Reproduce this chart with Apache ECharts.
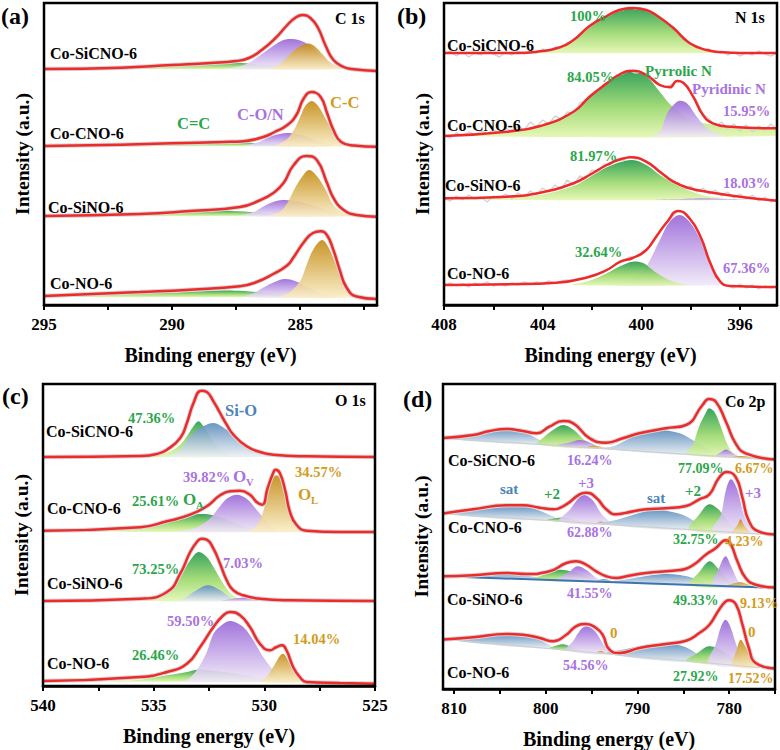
<!DOCTYPE html>
<html><head><meta charset="utf-8">
<script src="https://cdn.jsdelivr.net/npm/echarts@6/dist/echarts.min.js"></script>
<style>html,body{margin:0;padding:0;background:#fff}#c{width:780px;height:750px}</style>
</head><body><div id="c"></div>
<script>
// ---------- axis ticks ----------
const ticksA = [282.5,285,287.5,290,292.5,295], labelsA = [285,290,295];
const ticksB = [396,398,400,402,404,406,408], labelsB = [396,400,404,408];
const ticksC = [525,527.5,530,532.5,535,537.5,540], labelsC = [525,530,535,540];
const ticksD = [775,780,785,790,795,800,805,810], labelsD = [780,790,800,810];
const samples = ['Co-SiCNO-6','Co-CNO-6','Co-SiNO-6','Co-NO-6'];
// vertical offsets of stacked spectra (a.u.)
const offsetsA = [236,159,89,8];
const offsetsB = [252,169,105,20];
const offsetsC = [229,154,85,4];
const offsetsD = [229,154,101,20];

// ---------- (a) C 1s : [binding energy, intensity] ----------
const a1Env = [[295,0],[292,1.3],[290,4],[288.5,6],[287.5,8],[287,11],[286.5,19],[286,30],[285.5,44],[285.2,51],[284.9,54],[284.6,51],[284.3,41],[284,23],[283.7,9],[283.3,2],[283,0],[282,-2]];
const a1Green = [[295,0],[293,1],[291,3],[289.5,5.5],[288.3,7],[287.5,6.5],[286.5,4],[285.5,1.5],[284.5,0]];
const a1Purple = [[288,0],[287.5,2],[287,6],[286.5,15],[286,24],[285.7,28.5],[285.4,30],[285,28.5],[284.6,23],[284.2,14],[283.8,6],[283.4,1.5],[283,0]];
const a1Gold = [[286.2,0],[285.9,3],[285.6,9],[285.35,16],[285.1,21],[284.85,24.5],[284.65,25.5],[284.4,22],[284.1,14],[283.8,6],[283.5,2],[283.1,0]];

const a2Env = [[295,0],[292,1.3],[290,2.7],[288,4],[287.3,4.5],[286.5,8.5],[286,14],[285.5,21],[285.15,31],[284.85,48],[284.55,54],[284.2,49],[283.95,33],[283.7,16],[283.4,4],[282.9,0.5],[282,-0.7]];
const a2Green = [[295,0],[292,1.2],[290,2.5],[288.5,3.5],[287.5,3.5],[286.5,2.5],[285.5,1],[284.5,0]];
const a2Purple = [[287.2,0],[286.6,4],[286.2,9],[285.8,12],[285.45,13],[285,11.5],[284.6,8],[284.2,4],[283.8,1.5],[283.4,0]];
const a2Gold = [[285.9,0],[285.5,7],[285.2,18],[285,29],[284.8,40],[284.55,45],[284.3,40],[284,27],[283.7,14],[283.4,5],[283,1],[282.7,0]];

const a3Env = [[295,0],[291.25,2],[289.3,5],[287.35,9],[286.55,16],[286.05,23],[285.65,33],[285.25,51],[284.75,60],[284.35,56],[283.95,33],[283.7,18],[283.3,6],[282.8,1],[282,-0.7]];
const a3Green = [[295,0],[293,0.5],[291.5,1.5],[290,3.5],[289,5],[288.2,5.3],[287.2,4.5],[286.3,2.5],[285.5,1],[284.8,0]];
const a3Purple = [[287.3,0],[286.8,4],[286.4,10],[286,14.5],[285.7,16],[285.3,15.5],[284.8,13],[284.3,9],[283.8,5],[283.3,2],[282.8,0]];
const a3Gold = [[286.2,0],[285.8,4],[285.5,13],[285.2,28],[284.9,40],[284.65,46],[284.35,40],[284,26],[283.7,11],[283.3,3],[282.9,0]];

const a4Env = [[295,1],[291.25,5],[289.3,7.3],[287.35,10.7],[286.7,15],[286.05,23],[285.5,31.7],[285.25,40],[284.85,55],[284.5,64],[284.2,65.7],[283.95,61.7],[283.7,46.7],[283.45,26.7],[283.2,10],[282.8,0.5],[282,-2]];
const a4Green = [[295,0],[294.5,0.5],[293,1.5],[291,3.5],[289.5,5],[288,6.5],[287.2,6],[286.5,4.5],[285.5,2],[284.5,0]];
const a4Purple = [[287.2,0],[286.8,4],[286.4,10],[286,15],[285.6,18],[285.2,16],[284.8,11],[284.4,6],[284,2.5],[283.6,0]];
const a4Gold = [[285.8,0],[285.4,5],[285,16],[284.75,32],[284.5,47],[284.15,57],[283.9,50],[283.6,32],[283.35,17],[283,5],[282.7,0]];

// ---------- (b) N 1s ----------
const b1Env = [[408,0],[405,0],[404.1,1.7],[403.4,5],[402.75,13],[402.1,27],[401.4,37],[400.9,43],[400.35,45],[399.8,43],[399.4,38],[398.7,25],[398.05,10],[397.35,3],[396.7,0.7],[396,0],[394.5,0]];
const b1Green = [[405.5,0],[404.1,1.7],[403.4,5],[402.75,13],[402.1,27],[401.4,37],[400.9,43],[400.35,45],[399.8,43],[399.4,38],[398.7,25],[398.05,10],[397.35,3],[396.7,0.7],[395.8,0]];
const b1Raw = [[408,-1],[407.75,2],[407.5,-3],[407.25,1],[407,-4],[406.75,0],[406.5,-2],[406.25,3],[406,-1],[405.75,-4],[405.5,1],[405.25,-2],[405,2],[404.75,-1],[404.5,3],[404.25,0],[404,4],[403.75,2],[403.5,6],[403.25,5],[403,10],[402.75,12],[402.5,18],[402.25,23],[402,28],[401.75,32],[401.5,36],[401.25,38],[401,42],[400.75,43],[400.5,46],[400.25,44],[400,45],[399.75,42],[399.5,40],[399.25,35],[399,31],[398.75,27],[398.5,20],[398.25,15],[398,9],[397.75,7],[397.5,3],[397.25,4],[397,0],[396.75,2],[396.5,-2],[396.25,1],[396,-3],[395.75,0],[395.5,-2],[395.25,2],[395,-1],[394.75,-3],[394.5,0]];

const b2Env = [[408,0],[405.45,4.3],[404.1,10],[402.75,24.3],[402.1,39.3],[401.4,52.7],[400.85,62],[400.35,65.3],[399.8,61],[399.25,51],[398.85,48.7],[398.55,55],[398.3,53.3],[397.9,39.3],[397.5,21],[397.1,12.7],[396.4,9.3],[394.5,7.7]];
const b2Green = [[408,0],[405.45,4],[404.1,9.5],[402.75,23.5],[402.1,38.5],[401.4,52],[400.85,61],[400.35,64.5],[399.8,60],[399.25,44],[398.85,32],[398.45,24],[398.05,17],[397.5,13],[396.8,10.5],[395.5,8.5],[394.5,7.7],[394.5,0]];
const b2Purple = [[399.6,0],[399.25,4.3],[398.95,22.7],[398.7,31],[398.45,35.3],[398.15,32.7],[397.75,19.3],[397.35,7.7],[396.95,2.7],[396.6,0]];
const b2Raw = [[408,1],[407.75,-2],[407.5,3],[407.25,0],[407,4],[406.75,1],[406.5,5],[406.25,2],[406,6],[405.75,3],[405.5,8],[405.25,4],[405,10],[404.75,6],[404.5,14],[404.25,9],[404,16],[403.75,12],[403.5,20],[403.25,17],[403,24],[402.75,22],[402.5,33],[402.25,35],[402,42],[401.75,46],[401.5,52],[401.25,55],[401,61],[400.75,62],[400.5,66],[400.25,63],[400,64],[399.75,60],[399.5,57],[399.25,50],[399,49],[398.75,52],[398.5,56],[398.25,52],[398,44],[397.75,35],[397.5,22],[397.25,17],[397,10],[396.75,14],[396.5,7],[396.25,12],[396,5],[395.75,11],[395.5,4],[395.25,10],[395,6],[394.75,12],[394.5,7]];

const b3Env = [[408,1.7],[405.45,3.3],[404.1,7.3],[402.75,16.7],[402.1,25],[401.4,35],[400.85,40.7],[400.4,42.7],[399.8,38.3],[399.25,28.3],[398.7,18.3],[398.05,11.7],[397.35,8.3],[396,3.3],[394.5,-0.7]];
const b3Green = [[408,0.5],[405.5,2.5],[404.1,5],[402.75,14],[402.1,22.7],[401.4,32.7],[400.4,40],[399.8,35],[399.25,25],[398.7,16.7],[398.05,9.3],[397.35,4],[396.7,1.7],[396,0]];
const b3Purple = [[399.4,0],[398.7,0.7],[397.9,1.3],[397.1,1.3],[396.3,0.7],[395.6,0]];
const b3Raw = [[408,2],[407.75,-1],[407.5,4],[407.25,0],[407,5],[406.75,1],[406.5,3],[406.25,-2],[406,4],[405.75,2],[405.5,6],[405.25,1],[405,7],[404.75,3],[404.5,9],[404.25,5],[404,12],[403.75,8],[403.5,15],[403.25,11],[403,20],[402.75,15],[402.5,24],[402.25,21],[402,30],[401.75,28],[401.5,36],[401.25,35],[401,41],[400.75,39],[400.5,44],[400.25,41],[400,42],[399.75,36],[399.5,33],[399.25,27],[399,24],[398.75,17],[398.5,17],[398.25,11],[398,14],[397.75,8],[397.5,12],[397.25,6],[397,10],[396.75,4],[396.5,8],[396.25,2],[396,6],[395.75,1],[395.5,5],[395.25,-1],[395,3],[394.75,-2],[394.5,1]];

const b4Env = [[408,0],[405.45,0.7],[403.45,2.3],[402.1,8.3],[401.4,15],[400.85,23.3],[400.35,27],[399.8,35],[399.4,48.3],[398.95,63.3],[398.5,74],[398.05,66.7],[397.6,48.3],[397.2,21.7],[396.8,3.3],[396.4,-1],[394.5,-2]];
const b4Purple = [[401.4,0],[400.6,4],[400.05,10],[399.65,25],[399.25,45],[398.85,63.3],[398.45,70],[398.05,63.3],[397.6,45],[397.2,20],[396.8,3.3],[396.4,0]];
const b4Green = [[402.8,0],[402.1,4.3],[401.4,11.7],[400.85,19],[400.35,23.3],[399.9,21.7],[399.65,17],[399.25,10],[398.7,3.3],[398.15,0]];
const b4Raw = [[408,0],[407.75,2],[407.5,-1],[407.25,1],[407,-2],[406.75,2],[406.5,0],[406.25,3],[406,-1],[405.75,1],[405.5,-1],[405.25,2],[405,0],[404.75,3],[404.5,1],[404.25,3],[404,2],[403.75,4],[403.5,2],[403.25,4],[403,5],[402.75,5],[402.5,7],[402.25,7],[402,10],[401.75,11],[401.5,14],[401.25,17],[401,21],[400.75,24],[400.5,28],[400.25,28],[400,30],[399.75,36],[399.5,44],[399.25,53],[399,61],[398.75,68],[398.5,74],[398.25,72],[398,65],[397.75,55],[397.5,42],[397.25,25],[397,11],[396.75,3],[396.5,-1],[396.25,-3],[396,1],[395.75,-3],[395.5,0],[395.25,-4],[395,-1],[394.75,-3],[394.5,-1]];

// ---------- (c) O 1s ----------
const c1Env = [[540,0],[535.6,1],[534.85,3],[534.4,7.3],[533.8,19],[533.5,34],[533.2,54],[532.85,66.3],[532.6,65],[532.3,55.7],[532,44],[531.7,32.3],[531.4,22.3],[530.8,10.7],[530.2,5],[529.6,2.3],[528.1,0.7],[525,0]];
const c1Green = [[537,0],[535.6,0.7],[534.85,2],[534.4,4],[533.8,12.3],[533.5,20.7],[533.2,30.7],[532.98,35.7],[532.75,30.7],[532.45,20.7],[532.15,10.7],[531.7,3],[531.25,0.7],[530.8,0]];
const c1Blue = [[534.7,0],[534.4,0.7],[534.1,3],[533.8,7.3],[533.35,20.7],[532.9,29],[532.3,34],[531.7,27.3],[531.1,17.3],[530.5,9],[529.9,3],[529.3,0.7],[528.8,0]];

const c2Env = [[540,1.3],[535.6,4.7],[534.4,10.7],[533.35,17.3],[532.6,25.7],[532,36.7],[531.55,40.7],[531.1,41.3],[530.65,37.3],[530.35,30],[530.1,27.3],[529.85,44],[529.6,59],[529.5,62.3],[529.3,59],[529.05,40.7],[528.85,20.7],[528.55,7.3],[528.1,1.3],[526.6,0],[525,0]];
const c2Green = [[540,0.5],[537.5,1.5],[535.6,4],[534.4,10],[533.65,15.7],[532.9,18],[532.3,16.7],[531.7,12.3],[531.1,7.3],[530.35,2.3],[529.6,0.7],[529,0]];
const c2Purple = [[534,0],[533.5,1.7],[533.05,4.7],[532.6,10.7],[532.3,17.3],[532,25.7],[531.7,33.3],[531.25,37.3],[530.8,33.3],[530.35,22.3],[529.9,10.7],[529.6,4],[529.3,1.3],[529,0]];
const c2Gold = [[530.9,0],[530.65,1.3],[530.35,5.7],[530.05,20.7],[529.75,47.3],[529.47,56.7],[529.2,50.7],[529,30.7],[528.75,14],[528.45,4],[528.1,0.7],[527.8,0]];

const c3Env = [[540,0],[535.6,2.3],[534.4,9],[533.8,27.3],[533.35,49],[533.05,59],[532.85,62.3],[532.6,61.3],[532.3,52.3],[532,37.3],[531.7,20.7],[531.4,10.7],[530.95,5.7],[530.2,2.3],[528.85,0.7],[525,0]];
const c3Green = [[537.5,0],[535.6,1],[534.85,2.3],[534.25,10.7],[533.8,24],[533.35,40.7],[532.98,49],[532.6,44],[532.3,34],[531.85,17.3],[531.5,7.3],[531.1,2.3],[530.6,0]];
const c3Blue = [[534.1,0],[533.65,2.3],[533.2,9],[532.55,15.7],[532,10.7],[531.55,4],[531.1,1.3],[530.7,0]];
const c3Purple = [[531.9,0],[531.1,3],[530.5,3],[529.9,1.3],[529.3,0]];

const c4Env = [[540,1],[535.6,5],[534.4,10],[533.5,18.3],[532.9,35],[532.3,55],[531.85,66.7],[531.55,70],[531.1,66.7],[530.65,55],[530.2,38.3],[529.75,31.7],[529.45,35],[529.2,36.7],[529,31.7],[528.7,15],[528.4,5],[528.1,0],[526.6,-1],[525,-1.7]];
const c4Green = [[540,0.5],[537.5,1],[535.6,2.3],[534.4,6.7],[533.5,10],[533.05,12.3],[532.6,11.7],[531.85,10],[531.1,7.7],[530.35,4.3],[529.6,1.7],[528.85,0]];
const c4Purple = [[533.9,0],[533.5,2],[533.05,12],[532.6,30],[532.3,48.3],[531.85,58.3],[531.5,61],[530.95,55],[530.5,41.7],[530.05,25],[529.6,11.7],[529.3,3.3],[529,0.7],[528.7,0]];
const c4Gold = [[530.2,0],[529.9,5],[529.6,15],[529.17,28.3],[528.85,18.3],[528.55,6.7],[528.25,1.7],[527.9,0]];

// ---------- (d) Co 2p ----------
const d1Bg = [[811.2,21.8],[775,0]];
const d1Env = [[811.2,22],[807.9,25],[806.1,29],[804.3,31],[802.5,29],[801,26.7],[799.6,33.3],[798.1,39],[797,36.7],[795.2,21.7],[793.4,17.3],[791.6,21.7],[789.8,26.7],[786.9,31.7],[784.7,35],[782.9,55],[782.2,61],[781.45,58.3],[780.35,38.3],[779.3,16.7],[778.2,6.7],[775,0.5]];
const d1Sat1 = [[811.2,21.8],[807.9,25.7],[805,31],[803.55,30],[802.1,26.7],[800.65,20],[799.6,14.8]];
const d1Green2 = [[801,15.65],[800.3,22],[799.2,30],[798.1,35],[797,30.5],[795.9,21],[794.5,11.74]];
const d1Purple2 = [[798.8,14.33],[797.4,17.5],[796.3,20],[795.2,17.5],[794.1,11.5]];
const d1Gold2 = [[795.6,12.4],[794.9,14.3],[794.1,13.6],[793.4,11.08]];
const d1Sat2 = [[794.5,11.74],[792.7,13.5],[791.2,20],[789.8,26],[787.6,30],[785.4,26.7],[784,20],[782.5,12],[781.45,3.88]];
const d1Green1 = [[784.7,5.84],[784,14],[783.3,33],[782.5,48],[782.2,51.7],[781.6,48],[780.9,33],[780.2,16],[779.5,6],[778.9,2.35]];
const d1Purple1 = [[781.45,3.88],[780.7,9],[780.35,10.5],[779.8,8],[778.9,2.35]];
const d1Gold1 = [[779.6,2.77],[778.75,4],[777.8,3.3],[776.7,1.02]];

const d2Bg = [[811.2,21.3],[775,0]];
const d2Env = [[811.2,21.5],[807.9,25.7],[804.3,29.7],[802.5,29.7],[800.65,27.3],[799.2,25.7],[797.75,30.7],[796.3,40.7],[795.6,42.3],[794.5,37.3],[793.4,25.7],[792.3,20.7],[791.2,22.3],[789.05,25.7],[786.9,26.7],[784.7,29],[783.25,35.7],[782.15,40.7],[781.1,57.3],[780.2,63],[779.25,57.3],[778.55,37.3],[777.85,14],[776.75,3.3],[775,0.5]];
const d2Sat1 = [[811.2,21.3],[807.9,24.7],[804.3,28.3],[802.1,28],[800.3,23],[798.5,13.82]];
const d2Green2 = [[799.9,14.64],[798.8,17],[798.1,17.5],[797,15.5],[795.9,12.3]];
const d2Purple2 = [[798.5,13.82],[797.4,25],[796.5,36],[795.8,40],[794.9,35],[794,22],[793,10.6]];
const d2Gold2 = [[794.5,11.47],[793.95,13.5],[793.4,10.82]];
const d2Sat2 = [[794.5,11.47],[792.3,15],[789.8,22],[788,25],[786.2,23],[784.35,17],[782.9,4.65]];
const d2Green1 = [[784.35,5.5],[783.3,20],[782.2,30.7],[781.1,25],[780,12],[778.9,2.3]];
const d2Purple1 = [[781.8,3.99],[780.9,20],[780.35,45],[779.8,55.7],[779.1,45],[778.4,20],[777.6,6],[777.1,1.23]];
const d2Gold1 = [[779.6,2.7],[779.1,10],[778.75,15.7],[778.4,10],[777.8,1.65]];

const d3Bg = [[811.2,11.7],[775,0]];
const d3Env = [[811.2,11.7],[807.9,12.7],[804.3,15],[802.1,14],[799.6,16.7],[797.75,25],[796.7,26.7],[795.6,23.3],[794.5,16.7],[793.4,11.7],[792.3,10],[791.2,11.7],[789.05,15],[786.15,17.3],[784.7,19.3],[783.6,25],[782.55,33.3],[781.45,40],[780.7,46.7],[780.35,47.7],[779.8,43.3],[779.1,26.7],[778.2,10],[777.1,3.3],[775,0.5]];
const d3Sat1 = [[811.2,11.7],[807.2,13],[804.3,14],[802.1,12.5],[800.3,8.17]];
const d3Green2 = [[801.4,8.53],[799.9,14],[798.5,18.3],[797,16],[795.6,12],[794.5,6.3]];
const d3Purple2 = [[798.8,7.69],[797.6,15],[796.5,21.7],[795.4,17],[794.5,10],[793.4,5.94]];
const d3Small2 = [[794.5,6.3],[793.6,9],[792.7,5.72]];
const d3Sat2 = [[793.4,5.94],[791.6,8],[789.05,12],[786.9,14],[785.4,13],[783.6,9],[782.2,2.33]];
const d3Green1 = [[784.35,3.02],[783.25,16],[782.15,26.7],[781.25,20],[780.35,10],[779.45,1.44]];
const d3Purple1 = [[781.8,2.2],[781.1,20],[780.4,31.7],[779.8,22],[779.1,8],[778.55,1.15]];
const d3Gold1 = [[780.35,1.73],[779.3,5],[778.55,5.5],[777.45,0.79]];

const d4Bg = [[811.2,30],[775,0]];
const d4Env = [[811.2,29.5],[807.9,31.7],[804.3,35],[802.5,34.3],[800.65,31],[799.2,27.7],[797.75,34.3],[796.7,42.7],[795.6,45],[794.5,41],[793.8,34.3],[793.05,19.3],[791.95,16],[789.8,21],[786.9,25],[784.7,28.3],[783.25,36],[782.15,44.3],[781.1,59.3],[780.35,67.7],[780,68.7],[779.25,64.3],[778.55,44.3],[777.85,21],[777.1,6],[775,0.5]];
const d4Sat1 = [[811.2,30],[807.9,32],[804.3,34.5],[802.5,33.5],[800.65,29],[799.2,20.06]];
const d4Green2 = [[799.6,20.39],[798.65,24],[797.95,24.5],[797,21],[796.3,17.66]];
const d4Purple2 = [[797.75,18.86],[797,28],[796.3,38],[795.6,42.7],[794.65,38],[793.75,25],[793.05,14.96]];
const d4Gold2 = [[794.5,16.17],[793.95,18],[793.4,15.25]];
const d4Sat2 = [[793.4,15.25],[791.25,20],[788.3,25],[786.15,25],[784.35,20],[782.55,6.26]];
const d4Green1 = [[784.7,8.04],[783.6,15],[782.2,22.7],[780.7,18],[779.3,9],[778.2,2.65]];
const d4Purple1 = [[782.2,5.97],[781.45,25],[780.9,42],[780.4,49.3],[779.9,43],[779.25,25],[778.55,10],[777.8,2.32]];
const d4Gold1 = [[779.6,3.81],[779.15,20],[778.75,29.3],[778.2,22],[777.45,10],[776.75,1.45]];

// ---------- styling / layout ----------
const FONT = "'Liberation Serif','Times New Roman',serif";
const RED = '#ee2a2b';
const GRAD = {
  green: [[0,'#249a4b'],[0.55,'#9bd86c'],[1,'#e4f7b0']],
  purple:[[0,'#9865d8'],[1,'#f1eaf8']],
  gold:  [[0,'#c38a12'],[1,'#fbeec6']],
  blue:  [[0,'#5a8cbc'],[1,'#eef1f4']]
};
const TXT = {green:'#2aa64b', purple:'#a872e2', gold:'#d39b1c', blue:'#4b84b8', black:'#000'};

const panels = [
  {grid:{left:44,top:3,width:333,height:302}, min:282, max:295, ticks:ticksA, labels:labelsA, offsets:offsetsA,
   spectra:[
    {env:a1Env, fills:[['green',a1Green],['purple',a1Purple],['gold',a1Gold]]},
    {env:a2Env, fills:[['green',a2Green],['purple',a2Purple],['gold',a2Gold]]},
    {env:a3Env, fills:[['green',a3Green],['purple',a3Purple],['gold',a3Gold]]},
    {env:a4Env, fills:[['green',a4Green],['purple',a4Purple],['gold',a4Gold]]}]},
  {grid:{left:444,top:3,width:333,height:302}, min:394.5, max:408, ticks:ticksB, labels:labelsB, offsets:offsetsB,
   spectra:[
    {env:b1Env, raw:b1Raw, fills:[['green',b1Green]]},
    {env:b2Env, raw:b2Raw, fills:[['green',b2Green],['purple',b2Purple]]},
    {env:b3Env, raw:b3Raw, fills:[['green',b3Green],['purple',b3Purple]]},
    {env:b4Env, raw:b4Raw, fills:[['purple',b4Purple],['green',b4Green]]}]},
  {grid:{left:43,top:384,width:332,height:302}, min:525, max:540, ticks:ticksC, labels:labelsC, offsets:offsetsC,
   spectra:[
    {env:c1Env, fills:[['green',c1Green],['blue',c1Blue]]},
    {env:c2Env, fills:[['green',c2Green],['purple',c2Purple],['gold',c2Gold]]},
    {env:c3Env, fills:[['green',c3Green],['blue',c3Blue],['purple',c3Purple]]},
    {env:c4Env, fills:[['green',c4Green],['purple',c4Purple],['gold',c4Gold]]}]},
  {grid:{left:443,top:384,width:332,height:305}, min:775, max:811.2, ticks:ticksD, labels:labelsD, offsets:offsetsD,
   spectra:[
    {env:d1Env, bg:d1Bg, bgColor:'#cfcfcf', fills:[['blue',d1Sat1],['green',d1Green2],['purple',d1Purple2],['gold',d1Gold2],['blue',d1Sat2],['green',d1Green1],['purple',d1Purple1],['gold',d1Gold1]]},
    {env:d2Env, bg:d2Bg, bgColor:'#cfcfcf', fills:[['blue',d2Sat1],['green',d2Green2],['purple',d2Purple2],['gold',d2Gold2],['blue',d2Sat2],['green',d2Green1],['purple',d2Purple1],['gold',d2Gold1]]},
    {env:d3Env, bg:d3Bg, bgColor:'#3d74ad', fills:[['blue',d3Sat1],['green',d3Green2],['purple',d3Purple2],['blue',d3Small2],['blue',d3Sat2],['green',d3Green1],['purple',d3Purple1],['gold',d3Gold1]]},
    {env:d4Env, bg:d4Bg, bgColor:'#cfcfcf', fills:[['blue',d4Sat1],['green',d4Green2],['purple',d4Purple2],['gold',d4Gold2],['blue',d4Sat2],['green',d4Green1],['purple',d4Purple1],['gold',d4Gold1]]}]}
];

// text annotations: [text, x, y, colour, size]
const texts = [
  ['(a)',1,16,'black',24],['C 1s',335,18,'black',16],
  ['Co-SiCNO-6',50,53,'black',16],['Co-CNO-6',50,133,'black',16],['Co-SiNO-6',48,207,'black',16],['Co-NO-6',50,283,'black',16],
  ['C=C',177,123,'green',16.5],['C-O/N',237,114,'purple',16.5],['C-C',330,102,'gold',16.5],
  ['(b)',397,16,'black',24],['N 1s',735,17,'black',16],
  ['Co-SiCNO-6',447,45,'black',16],['Co-CNO-6',447,125,'black',16],['Co-SiNO-6',445,185,'black',16],['Co-NO-6',447,273,'black',16],
  ['100%',570,16,'green',14.5],['84.05%',567,77,'green',14.5],['Pyrrolic N',645,71,'green',15],['Pyridinic N',692,89,'purple',15],
  ['15.95%',723,111,'purple',14.5],['81.97%',570,156,'green',14.5],['18.03%',723,183,'purple',14.5],['32.64%',575,252,'green',14.5],['67.36%',723,268,'purple',14.5],
  ['(c)',2,396,'black',24],['O 1s',335,400,'black',16],
  ['Co-SiCNO-6',46,431,'black',16],['Co-CNO-6',47,508,'black',16],['Co-SiNO-6',47,583,'black',16],['Co-NO-6',47,663,'black',16],
  ['47.36%',128,418,'green',14.5],['Si-O',225,410,'blue',16.5],['25.61%',132,501,'green',14.5],['O',183,499,'green',17],['A',196,505,'green',10.5],
  ['39.82%',183,477,'purple',14.5],['O',233,476,'purple',17],['V',246,482,'purple',10.5],['34.57%',295,472,'gold',14.5],['O',298,494,'gold',17],['L',311,500,'gold',10.5],
  ['73.25%',132,569,'green',14.5],['7.03%',223,563,'purple',14.5],['59.50%',167,621,'purple',14.5],['14.04%',293,639,'gold',14.5],['26.46%',132,655,'green',14.5],
  ['(d)',403,399,'black',24],['Co 2p',725,401,'black',16],
  ['Co-SiCNO-6',448,460,'black',16],['Co-CNO-6',448,527,'black',16],['Co-SiNO-6',447,599,'black',16],['Co-NO-6',447,672,'black',16],
  ['16.24%',567,460,'purple',14],['77.09%',678,468,'green',14],['6.67%',735,468,'gold',14],
  ['sat',500,489,'blue',15],['+2',544,494,'green',15],['+3',578,483,'purple',15],['sat',647,498,'blue',15],['+2',685,491,'green',15],['+3',745,493,'purple',15],
  ['62.88%',567,532,'purple',14],['32.75%',673,539,'green',14],['4.23%',725,541,'gold',14],
  ['41.55%',567,593,'purple',14],['49.33%',673,600,'green',14],['9.13%',740,603,'gold',14],
  ['0',610,633,'gold',15],['0',748,632,'gold',15],
  ['54.56%',563,665,'purple',14],['27.92%',673,676,'green',14],['17.52%',728,678,'gold',14]
];

function gradient(name){
  return {type:'linear',x:0,y:0,x2:0,y2:1,colorStops:GRAD[name].map(s=>({offset:s[0],color:s[1]}))};
}
function shift(pts, off){ return pts.map(p=>[p[0], p[1]+off]); }

const grids=[], xAxes=[], yAxes=[], series=[], graphics=[];
panels.forEach((P,pi)=>{
  grids.push(Object.assign({containLabel:false}, P.grid));
  xAxes.push({type:'value', gridIndex:pi, inverse:true, min:P.min, max:P.max,
    name:'Binding energy (eV)', nameLocation:'middle', nameGap:40,
    nameTextStyle:{fontFamily:FONT, fontWeight:'bold', fontSize:20, color:'#000'},
    axisLine:{show:true, onZero:false, lineStyle:{color:'#000', width:2.5}},
    axisTick:{show:true, inside:false, length:5, customValues:P.ticks, lineStyle:{color:'#000', width:2}},
    axisLabel:{customValues:P.labels, showMinLabel:true, showMaxLabel:true, margin:11, fontFamily:FONT, fontWeight:'bold', fontSize:17, color:'#000'},
    splitLine:{show:false}});
  yAxes.push({type:'value', gridIndex:pi, min:0, max:P.grid.height,
    name:'Intensity (a.u.)', nameLocation:'middle', nameGap:12, nameRotate:90,
    nameTextStyle:{fontFamily:FONT, fontWeight:'bold', fontSize:19.5, color:'#000'},
    axisLine:{show:false}, axisTick:{show:false}, axisLabel:{show:false}, splitLine:{show:false}});
  P.spectra.forEach((S,si)=>{
    const off = P.offsets[si];
    if(S.raw){
      series.push({type:'line', xAxisIndex:pi, yAxisIndex:pi, silent:true, data:shift(S.raw,off),
        showSymbol:false, lineStyle:{color:'#d3d3d3', width:1.4}});
    }
    S.fills.forEach(([col, pts])=>{
      const data = shift(pts, off);
      series.push({type:'custom', xAxisIndex:pi, yAxisIndex:pi, silent:true, clip:true, data,
        renderItem:(params, api)=>{
          if(params.dataIndex!==0) return null;
          return {type:'polygon', shape:{points:data.map(d=>api.coord(d)), smooth:0.35},
                  style:{fill:gradient(col), opacity:0.9}};
        }});
    });
    if(S.bg){
      series.push({type:'line', xAxisIndex:pi, yAxisIndex:pi, silent:true, data:shift(S.bg,off),
        showSymbol:false, lineStyle:{color:S.bgColor, width:S.bgColor==='#cfcfcf'?1.2:2}});
    }
    if(!S.raw){
      series.push({type:'line', xAxisIndex:pi, yAxisIndex:pi, silent:true, data:shift(S.env,off),
        smooth:0.5, showSymbol:false, lineStyle:{color:'#d6d6d6', width:4.5}});
    }
    series.push({type:'line', xAxisIndex:pi, yAxisIndex:pi, silent:true, data:shift(S.env,off),
      smooth:0.5, showSymbol:false, lineStyle:{color:RED, width:2.5}});
  });
  graphics.push({type:'rect', z:100, silent:true, shape:{x:P.grid.left, y:P.grid.top, width:P.grid.width, height:P.grid.height},
    style:{fill:'none', stroke:'#000', lineWidth:2.5}});
});
texts.forEach(t=>{
  graphics.push({type:'text', z:101, silent:true, x:t[1], y:t[2],
    style:{text:t[0], fill:TXT[t[3]], font:'bold '+t[4]+'px '+FONT, align:'left', verticalAlign:'middle', textAlign:'left', textVerticalAlign:'middle'}});
});

const chart = echarts.init(document.getElementById('c'), null, {renderer:'svg', width:780, height:750});
chart.setOption({animation:false, backgroundColor:'#fff', grid:grids, xAxis:xAxes, yAxis:yAxes, series, graphic:graphics});
</script></body></html>
